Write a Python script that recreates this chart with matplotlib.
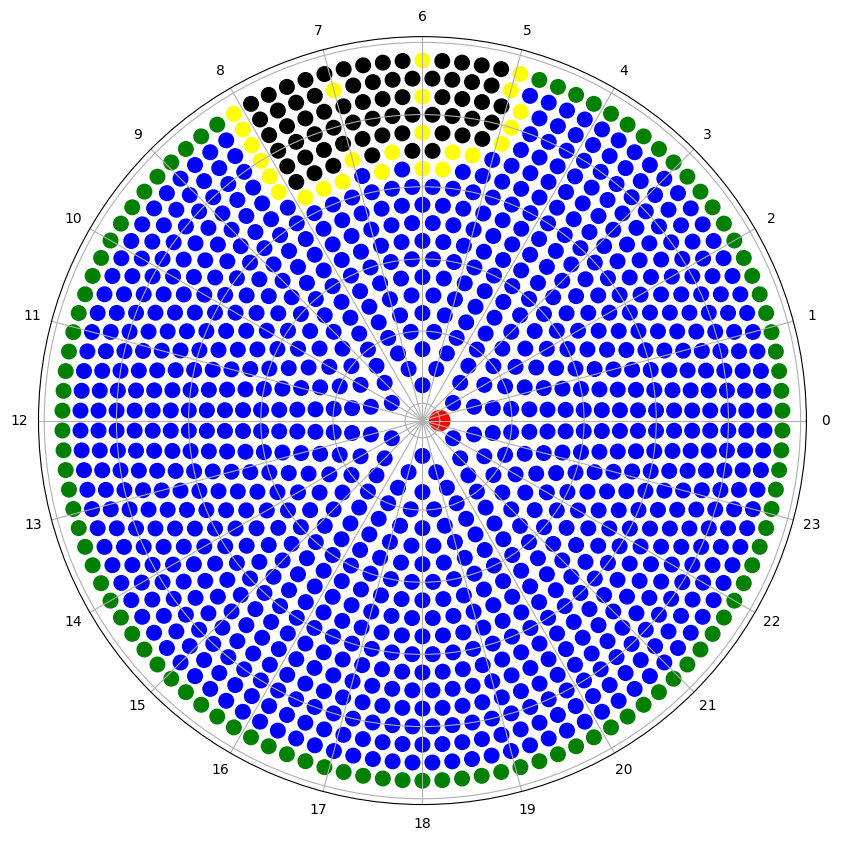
import numpy as np
import matplotlib.pyplot as plt

# layout: concentric hexagonal rings, ring m holds 6*m points
n_rings = 20
ring_step = 0.05

# highlighted patch (ring -> point index within that ring)
yellow_pts = {
    13: [18, 19, 21, 23, 24, 25],
    14: [18, 19, 22, 24, 28],
    15: [18, 22, 30],
    16: [19, 32],
    17: [20, 25, 34],
    18: [22, 31, 36],
    19: [23, 28, 38],
}
black_pts = {
    14: [20, 21, 23, 25, 26, 27],
    15: [19, 20, 21, 23, 24, 25, 26, 27, 28, 29],
    16: [20, 21, 22, 23, 24, 25, 26, 27, 28, 29, 30, 31],
    17: [21, 22, 23, 24, 26, 27, 28, 29, 30, 31, 32, 33],
    18: [23, 24, 25, 26, 27, 28, 29, 30, 32, 33, 34, 35],
    19: [24, 25, 26, 27, 29, 30, 31, 32, 33, 34, 35, 36, 37],
}
hour_labels = [str(h) for h in range(24)]

theta, radius, colors, sizes = [], [], [], []
for m in range(n_rings):
    if m == 0:
        theta.append(0.0)
        radius.append(0.0)
        colors.append('red')
        sizes.append(210)
        continue
    n = 6 * m
    for j in range(n):
        theta.append((j + 0.5) * 2 * np.pi / n)
        radius.append(m * ring_step)
        c = 'green' if m == n_rings - 1 else 'blue'
        if j in black_pts.get(m, []):
            c = 'black'
        if j in yellow_pts.get(m, []):
            c = 'yellow'
        colors.append(c)
        sizes.append(110)

fig = plt.figure(figsize=(8.42, 8.42), dpi=100)
ax = fig.add_axes([0.0457, 0.0445, 0.912, 0.912], projection='polar')
ax.scatter(theta, radius, c=colors, s=sizes)

ax.set_thetagrids(np.arange(0, 360, 15), labels=hour_labels)
ax.set_rticks([0, 0.2, 0.4, 0.6, 0.8, 1.0])
ax.set_yticklabels([])
ax.set_ylim(-0.048, 1.016)

fig.savefig('out.png', dpi=100)
